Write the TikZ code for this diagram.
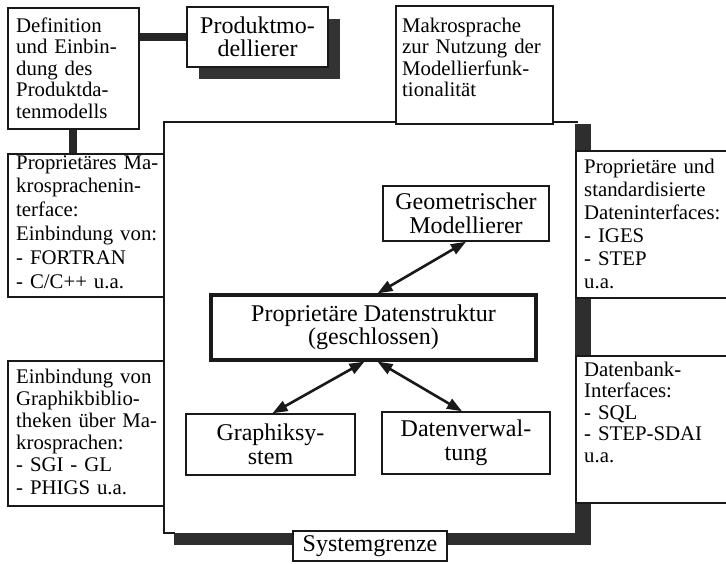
\documentclass[tikz,border=0pt]{standalone}
\usepackage{fontspec}
\setmainfont{Liberation Serif}
\usetikzlibrary{arrows.meta,shadows}
\begin{document}
\begin{tikzpicture}[x=1pt,y=-1pt,
  box/.style={draw=black!90, line width=1.5pt, fill=white, inner sep=0pt},
  sidebox/.style={box, anchor=north west},
  big/.style={font=\fontsize{24}{23.5}\selectfont, align=center},
  txt/.style={anchor=base west, inner sep=0pt, text width=150pt, align=left,
              font=\fontsize{20.8}{#1}\selectfont},
  bar/.style={draw=black!85, line width=8pt},
  shade/.style={fill=black!82},
  dbl/.style={line width=2.6pt, draw=black!90,
              {Triangle[length=15pt,width=11pt]}-{Triangle[length=15pt,width=11pt]}}
]
\useasboundingbox (0,0) rectangle (726,563);
\clip (0,0) rectangle (726,563);

% system boundary: thin frame with a heavy shadow on the right and bottom
\fill[shade] (575,124) rectangle (591,545);
\fill[shade] (174,533) rectangle (591,545);
\draw[line width=1.5pt, black!90] (578,122) -- (164,122) -- (164,533) -- (175,533);

% outer boxes
\node[sidebox, minimum width=131pt, minimum height=121pt] (def) at (7,7) {};
\node[box, big, minimum width=141pt, minimum height=60pt,
      drop shadow={shadow xshift=12pt, shadow yshift=-12pt, fill=black!80, opacity=1}]
      (prod) at (257.5,37) {Produktmo-\\dellierer};
\node[sidebox, minimum width=157pt, minimum height=118pt] (makro) at (395,5) {};
\node[sidebox, minimum width=156pt, minimum height=143pt] (propL) at (7,153) {};
\node[sidebox, minimum width=156pt, minimum height=145pt] (graphL) at (7,360) {};
\node[sidebox, minimum width=160pt, minimum height=147pt] (propR) at (575,150) {};
\node[sidebox, minimum width=160pt, minimum height=147pt] (dbR) at (575,355) {};

% texts of the outer boxes
\node[txt=21.5pt] (defT) at (16,32) {Definition\\und Einbin-\\dung des\\Produktda-\\tenmodells};
\node[txt=21.5pt] (makroT) at (402,32) {Makrosprache\\zur Nutzung der\\Modellierfunk-\\tionalität};
\node[txt=23.8pt] (propLT) at (16,169) {Proprietäres Ma-\\krosprachenin-\\terface:\\Einbindung von:\\- FORTRAN\\- C/C++ u.a.};
\node[txt=22.2pt] (graphLT) at (16,383) {Einbindung von\\Graphikbiblio-\\theken über Ma-\\krosprachen:\\- SGI - GL\\- PHIGS u.a.};
\node[txt=23pt] (propRT) at (584,173) {Proprietäre und\\standardisierte\\Dateninterfaces:\\- IGES\\- STEP\\u.a.};
\node[txt=21.5pt] (dbRT) at (584,376) {Datenbank-\\Interfaces:\\- SQL\\- STEP-SDAI\\u.a.};

% connectors between the outer boxes
\draw[bar] (prod.west) -- (prod.west -| def.east);
\draw[bar] (def.south) -- (def.south |- propL.north);

% inner components
\node[box, big, minimum width=166pt, minimum height=55pt] (geo) at (466,213.5) {Geometrischer\\Modellierer};
\node[box, big, line width=3.2pt, minimum width=325pt, minimum height=65pt] (ds) at (373.5,327.5) {Proprietäre Datenstruktur\\(geschlossen)};
\node[box, big, minimum width=169pt, minimum height=61pt] (gs) at (270.5,444.5) {Graphiksy-\\stem};
\node[box, big, minimum width=168pt, minimum height=62pt] (dv) at (466,443) {Datenverwal-\\tung};

% boundary label
\node[box, big, minimum width=154pt, minimum height=30pt] (sys) at (370,546) {Systemgrenze};

% data flows
\draw[dbl] (geo.south) -- ([xshift=4pt]ds.north);
\draw[dbl] ([xshift=-9pt]ds.south) -- ([xshift=2pt]gs.north);
\draw[dbl] ([xshift=4pt]ds.south) -- ([xshift=-4pt]dv.north);
\end{tikzpicture}
\end{document}
